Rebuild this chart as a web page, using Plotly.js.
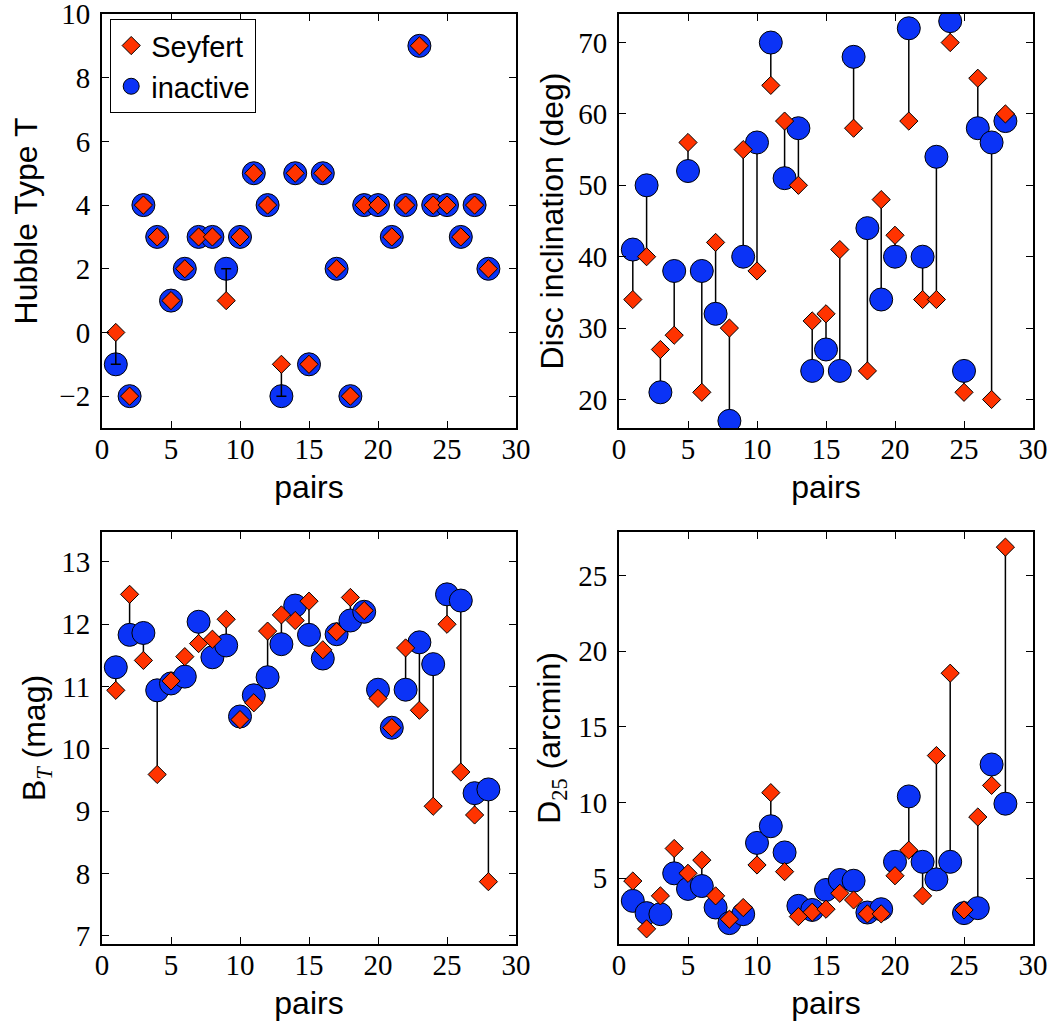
<!DOCTYPE html>
<html><head><meta charset="utf-8">
<script src="https://cdn.plot.ly/plotly-3.0.1.min.js"></script>
<style>html,body{margin:0;padding:0;background:#fff}</style>
</head><body>
<div id="chart" style="width:1056px;height:1027px"></div>
<script>
// ---- data ----
const pairs = [1,2,3,4,5,6,7,8,9,10,11,12,13,14,15,16,17,18,19,20,21,22,23,24,25,26,27,28];

const hubbleSeyfert  = [0,-2,4,3,1,2,3,3,1,3,5,4,-1,5,-1,5,2,-2,4,4,3,4,9,4,4,3,4,2];
const hubbleInactive = [-1,-2,4,3,1,2,3,3,2,3,5,4,-2,5,-1,5,2,-2,4,4,3,4,9,4,4,3,4,2];

const inclSeyfert  = [34,40,27,29,56,21,42,30,55,38,64,59,50,31,32,41,58,24,48,43,59,34,34,70,21,65,20,60];
const inclInactive = [41,50,21,38,52,38,32,17,40,56,70,51,58,24,27,24,68,44,34,40,72,40,54,73,24,58,56,59];

const btSeyfert  = [10.94,12.48,11.42,9.59,11.09,11.48,11.69,11.76,12.08,10.47,10.74,11.89,12.15,12.06,12.37,11.59,11.88,12.43,12.22,10.81,10.34,11.62,10.62,9.08,12.00,9.63,8.94,7.87];
const btInactive = [11.31,11.83,11.86,10.94,11.05,11.16,12.04,11.47,11.66,10.52,10.86,11.15,11.68,12.30,11.83,11.45,11.84,12.06,12.20,10.95,10.34,10.95,11.71,11.36,12.48,12.38,9.29,9.35];

const d25Seyfert  = [4.82,1.66,3.84,6.97,5.33,6.20,3.84,2.30,3.07,5.88,10.66,5.44,2.47,2.76,2.96,4.01,3.57,2.65,2.65,5.17,6.86,3.84,13.11,18.55,2.91,9.05,11.14,26.88];
const d25Inactive = [3.51,2.70,2.63,5.33,4.30,4.49,3.07,2.04,2.63,7.34,8.44,6.71,3.18,2.91,4.23,4.89,4.84,2.74,2.96,6.09,10.41,6.09,4.93,6.09,2.70,3.03,12.52,9.93];

const seriesNames = ['Seyfert', 'inactive'];
const xTitle = 'pairs';
const yTitles = ['Hubble Type T', 'Disc inclination (deg)',
  'B<sub><span style="font-family:Liberation Serif;font-style:italic">T</span></sub> (mag)',
  'D<sub><span style="font-family:Liberation Serif">25</span></sub> (arcmin)'];

// ---- styling ----
const RED = '#ff3300', BLUE = '#0b33f6';
const tickFont = {family: 'Liberation Serif, serif', size: 29, color: '#000'};
const titleFont = {family: 'Liberation Sans, Arial, sans-serif', size: 32, color: '#000'};

function pairTraces(n, seyfert, inactive, capWidth, capsOnTop, showLegend) {
  const xa = n === 1 ? 'x' : 'x' + n, ya = n === 1 ? 'y' : 'y' + n;
  const up = seyfert.map((s, i) => s > inactive[i] ? s - inactive[i] : 0);
  const down = seyfert.map((s, i) => s < inactive[i] ? inactive[i] - s : 0);
  const bars = {x: pairs, y: inactive, xaxis: xa, yaxis: ya, type: 'scatter', mode: 'markers',
    marker: {size: 2, opacity: 0}, showlegend: false, hoverinfo: 'skip',
    error_y: {type: 'data', symmetric: false, array: up, arrayminus: down,
      color: '#000', thickness: 1.5, width: capWidth}};
  const inact = {x: pairs, y: inactive, xaxis: xa, yaxis: ya, type: 'scatter', mode: 'markers',
    name: seriesNames[1], legendrank: 2, showlegend: showLegend,
    marker: {symbol: 'circle', size: 23, color: BLUE, line: {color: '#000', width: 1}}};
  const sey = {x: pairs, y: seyfert, xaxis: xa, yaxis: ya, type: 'scatter', mode: 'markers',
    name: seriesNames[0], legendrank: 1, showlegend: showLegend,
    marker: {symbol: 'diamond', size: 14, color: RED, line: {color: '#000', width: 1}}};
  return capsOnTop ? [inact, bars, sey] : [bars, inact, sey];
}

function yRange(a, b) {
  const all = a.concat(b);
  return [Math.min(...all) - 1, Math.max(...all) + 1];
}

const W = 1056, H = 1027;
const colDom = [[102 / W, 516 / W], [619 / W, 1033 / W]];
const rowDom = [[1 - 428 / H, 1 - 14 / H], [1 - 944 / H, 1 - 532 / H]];

function axisBase() {
  return {ticks: 'inside', ticklen: 7, tickwidth: 1, tickcolor: '#000',
    showline: true, linecolor: '#000', linewidth: 2, mirror: 'ticks',
    showgrid: false, zeroline: false, tickfont: tickFont, ticklabeloverflow: 'allow'};
}
function xAxis(n, dom) {
  return Object.assign(axisBase(), {domain: dom, anchor: n === 1 ? 'y' : 'y' + n,
    range: [0, 30], tick0: 0, dtick: 5, ticklabelstandoff: -6,
    title: {text: xTitle, font: titleFont, standoff: 12}});
}
function yAxis(n, dom, range, dtick, title, standoff) {
  return Object.assign(axisBase(), {domain: dom, anchor: n === 1 ? 'x' : 'x' + n,
    range: range, tick0: 0, dtick: dtick, ticklabelstandoff: 4,
    title: {text: title, font: titleFont, standoff: standoff}});
}

const data = [].concat(
  pairTraces(1, hubbleSeyfert, hubbleInactive, 5, true, true),
  pairTraces(2, inclSeyfert, inclInactive, 0, false, false),
  pairTraces(3, btSeyfert, btInactive, 0, false, false),
  pairTraces(4, d25Seyfert, d25Inactive, 0, false, false)
);

const layout = {
  width: W, height: H, margin: {l: 0, r: 0, t: 0, b: 0},
  paper_bgcolor: '#fff', plot_bgcolor: '#fff',
  showlegend: true,
  legend: {x: 110 / W, y: 1 - 19 / H, xanchor: 'left', yanchor: 'top',
    bordercolor: '#000', borderwidth: 1.2, bgcolor: '#fff',
    font: {family: 'Liberation Sans, Arial, sans-serif', size: 29, color: '#000'},
    entrywidth: 158, entrywidthmode: 'pixels',
    tracegroupgap: 0},
  xaxis: xAxis(1, colDom[0]), yaxis: yAxis(1, rowDom[0], yRange(hubbleSeyfert, hubbleInactive), 2, yTitles[0], 12),
  xaxis2: xAxis(2, colDom[1]), yaxis2: yAxis(2, rowDom[0], yRange(inclSeyfert, inclInactive), 10, yTitles[1], 5),
  xaxis3: xAxis(3, colDom[0]), yaxis3: yAxis(3, rowDom[1], yRange(btSeyfert, btInactive), 1, yTitles[2], 6),
  xaxis4: xAxis(4, colDom[1]), yaxis4: yAxis(4, rowDom[1], yRange(d25Seyfert, d25Inactive), 5, yTitles[3], 8)
};

Plotly.newPlot('chart', data, layout, {displayModeBar: false, staticPlot: true});
</script>
</body></html>
